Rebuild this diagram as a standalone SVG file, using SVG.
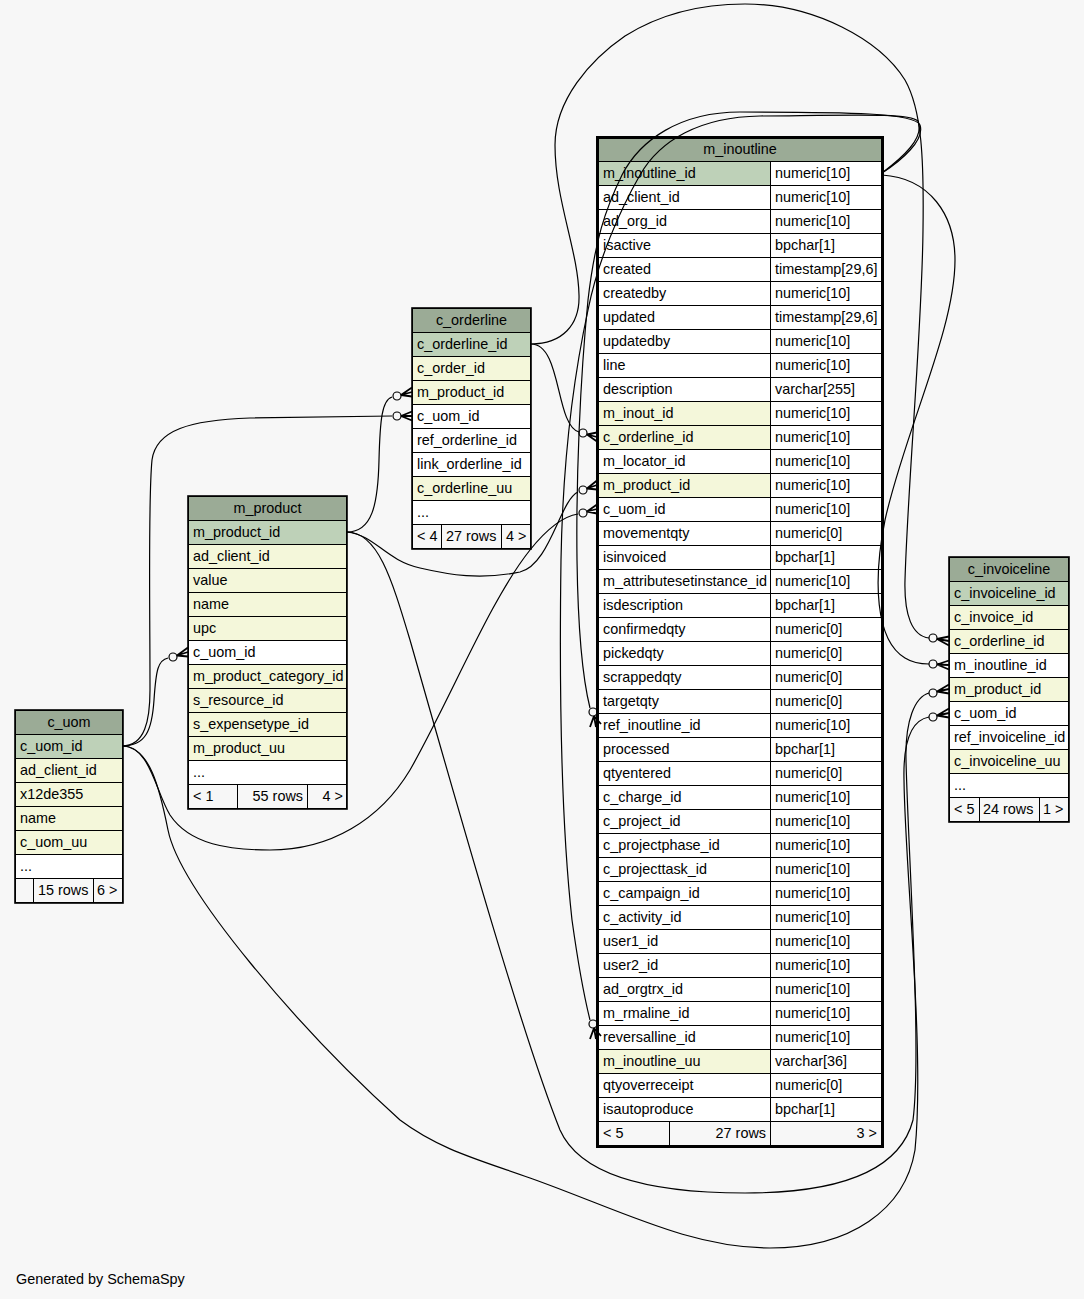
<svg xmlns="http://www.w3.org/2000/svg" width="1084" height="1299" viewBox="0 0 1084 1299">
<style>
text{font-family:"Liberation Sans",Arial,sans-serif;font-size:14.4px;fill:#000}
.hc{text-anchor:middle}
.e{text-anchor:end}
.h{fill:#9bab96;stroke:#000;stroke-width:1}
.pk{fill:#bed1b8;stroke:#000;stroke-width:1}
.fk{fill:#f4f7da;stroke:#000;stroke-width:1}
.w{fill:#fff;stroke:#000;stroke-width:1}
.f{fill:#f7f7f7;stroke:#000;stroke-width:1}
.g{fill:none;stroke:#000;stroke-width:1}
.o{fill:none;stroke:#000;stroke-width:1.6}
.ob{fill:none;stroke:#000;stroke-width:3}
.ln{fill:none;stroke:#000;stroke-width:1.2}
.dot{fill:none;stroke:#000;stroke-width:1.2}
.crow{fill:none;stroke:#000;stroke-width:1.8}
</style>
<rect x="0" y="0" width="1084" height="1299" fill="#f7f7f7"/>

<g id="c_orderline">
<rect class="h" x="412.5" y="308.5" width="118" height="24"/>
<text class="hc" x="471.5" y="325">c_orderline</text>
<rect class="pk" x="412.5" y="332.5" width="118" height="24"/>
<rect class="fk" x="412.5" y="356.5" width="118" height="24"/>
<rect class="fk" x="412.5" y="380.5" width="118" height="24"/>
<rect class="w" x="412.5" y="404.5" width="118" height="24"/>
<rect class="w" x="412.5" y="428.5" width="118" height="24"/>
<rect class="w" x="412.5" y="452.5" width="118" height="24"/>
<rect class="fk" x="412.5" y="476.5" width="118" height="24"/>
<rect class="w" x="412.5" y="500.5" width="118" height="24"/>
<rect class="f" x="412.5" y="524.5" width="118" height="24"/>
<path class="g" d="M441.5,524.5V548.5M501.5,524.5V548.5"/>
<rect class="o" x="412" y="308" width="119" height="241"/>
<text x="417" y="349">c_orderline_id</text>
<text x="417" y="373">c_order_id</text>
<text x="417" y="397">m_product_id</text>
<text x="417" y="421">c_uom_id</text>
<text x="417" y="445">ref_orderline_id</text>
<text x="417" y="469">link_orderline_id</text>
<text x="417" y="493">c_orderline_uu</text>
<text x="417" y="517">...</text>
<text x="417" y="541">&lt; 4</text>
<text x="446" y="541">27 rows</text>
<text x="506" y="541">4 &gt;</text>
</g>

<g id="m_product">
<rect class="h" x="188.5" y="496.5" width="158" height="24"/>
<text class="hc" x="267.5" y="513">m_product</text>
<rect class="pk" x="188.5" y="520.5" width="158" height="24"/>
<rect class="fk" x="188.5" y="544.5" width="158" height="24"/>
<rect class="fk" x="188.5" y="568.5" width="158" height="24"/>
<rect class="fk" x="188.5" y="592.5" width="158" height="24"/>
<rect class="fk" x="188.5" y="616.5" width="158" height="24"/>
<rect class="w" x="188.5" y="640.5" width="158" height="24"/>
<rect class="fk" x="188.5" y="664.5" width="158" height="24"/>
<rect class="fk" x="188.5" y="688.5" width="158" height="24"/>
<rect class="fk" x="188.5" y="712.5" width="158" height="24"/>
<rect class="fk" x="188.5" y="736.5" width="158" height="24"/>
<rect class="w" x="188.5" y="760.5" width="158" height="24"/>
<rect class="f" x="188.5" y="784.5" width="158" height="24"/>
<path class="g" d="M237.5,784.5V808.5M307.5,784.5V808.5"/>
<rect class="o" x="188" y="496" width="159" height="313"/>
<text x="193" y="537">m_product_id</text>
<text x="193" y="561">ad_client_id</text>
<text x="193" y="585">value</text>
<text x="193" y="609">name</text>
<text x="193" y="633">upc</text>
<text x="193" y="657">c_uom_id</text>
<text x="193" y="681">m_product_category_id</text>
<text x="193" y="705">s_resource_id</text>
<text x="193" y="729">s_expensetype_id</text>
<text x="193" y="753">m_product_uu</text>
<text x="193" y="777">...</text>
<text x="193" y="801">&lt; 1</text>
<text class="e" x="303" y="801">55 rows</text>
<text class="e" x="343" y="801">4 &gt;</text>
</g>

<g id="c_uom">
<rect class="h" x="15.5" y="710.5" width="107" height="24"/>
<text class="hc" x="69" y="727">c_uom</text>
<rect class="pk" x="15.5" y="734.5" width="107" height="24"/>
<rect class="fk" x="15.5" y="758.5" width="107" height="24"/>
<rect class="fk" x="15.5" y="782.5" width="107" height="24"/>
<rect class="fk" x="15.5" y="806.5" width="107" height="24"/>
<rect class="fk" x="15.5" y="830.5" width="107" height="24"/>
<rect class="w" x="15.5" y="854.5" width="107" height="24"/>
<rect class="f" x="15.5" y="878.5" width="107" height="24"/>
<path class="g" d="M33.5,878.5V902.5M93.5,878.5V902.5"/>
<rect class="o" x="15" y="710" width="108" height="193"/>
<text x="20" y="751">c_uom_id</text>
<text x="20" y="775">ad_client_id</text>
<text x="20" y="799">x12de355</text>
<text x="20" y="823">name</text>
<text x="20" y="847">c_uom_uu</text>
<text x="20" y="871">...</text>
<text x="38" y="895">15 rows</text>
<text x="97" y="895">6 &gt;</text>
</g>

<g id="c_invoiceline">
<rect class="h" x="949.5" y="557.5" width="119" height="24"/>
<text class="hc" x="1009" y="574">c_invoiceline</text>
<rect class="pk" x="949.5" y="581.5" width="119" height="24"/>
<rect class="fk" x="949.5" y="605.5" width="119" height="24"/>
<rect class="fk" x="949.5" y="629.5" width="119" height="24"/>
<rect class="w" x="949.5" y="653.5" width="119" height="24"/>
<rect class="fk" x="949.5" y="677.5" width="119" height="24"/>
<rect class="w" x="949.5" y="701.5" width="119" height="24"/>
<rect class="w" x="949.5" y="725.5" width="119" height="24"/>
<rect class="fk" x="949.5" y="749.5" width="119" height="24"/>
<rect class="w" x="949.5" y="773.5" width="119" height="24"/>
<rect class="f" x="949.5" y="797.5" width="119" height="24"/>
<path class="g" d="M979.5,797.5V821.5M1039.5,797.5V821.5"/>
<rect class="o" x="949" y="557" width="120" height="265"/>
<text x="954" y="598">c_invoiceline_id</text>
<text x="954" y="622">c_invoice_id</text>
<text x="954" y="646">c_orderline_id</text>
<text x="954" y="670">m_inoutline_id</text>
<text x="954" y="694">m_product_id</text>
<text x="954" y="718">c_uom_id</text>
<text x="954" y="742">ref_invoiceline_id</text>
<text x="954" y="766">c_invoiceline_uu</text>
<text x="954" y="790">...</text>
<text x="954" y="814">&lt; 5</text>
<text x="983" y="814">24 rows</text>
<text x="1043" y="814">1 &gt;</text>
</g>

<g id="m_inoutline">
<rect class="h" x="598.5" y="138.5" width="283" height="23"/>
<text class="hc" x="740" y="154">m_inoutline</text>
<rect x="598.5" y="161.5" width="283" height="960" fill="#fff"/>
<rect class="pk" x="598.5" y="161.5" width="172" height="24"/>
<rect class="fk" x="598.5" y="401.5" width="172" height="24"/>
<rect class="fk" x="598.5" y="425.5" width="172" height="24"/>
<rect class="fk" x="598.5" y="473.5" width="172" height="24"/>
<rect class="fk" x="598.5" y="1049.5" width="172" height="24"/>
<path class="g" d="M598.5,161.5H881.5M598.5,185.5H881.5M598.5,209.5H881.5M598.5,233.5H881.5M598.5,257.5H881.5M598.5,281.5H881.5M598.5,305.5H881.5M598.5,329.5H881.5M598.5,353.5H881.5M598.5,377.5H881.5M598.5,401.5H881.5M598.5,425.5H881.5M598.5,449.5H881.5M598.5,473.5H881.5M598.5,497.5H881.5M598.5,521.5H881.5M598.5,545.5H881.5M598.5,569.5H881.5M598.5,593.5H881.5M598.5,617.5H881.5M598.5,641.5H881.5M598.5,665.5H881.5M598.5,689.5H881.5M598.5,713.5H881.5M598.5,737.5H881.5M598.5,761.5H881.5M598.5,785.5H881.5M598.5,809.5H881.5M598.5,833.5H881.5M598.5,857.5H881.5M598.5,881.5H881.5M598.5,905.5H881.5M598.5,929.5H881.5M598.5,953.5H881.5M598.5,977.5H881.5M598.5,1001.5H881.5M598.5,1025.5H881.5M598.5,1049.5H881.5M598.5,1073.5H881.5M598.5,1097.5H881.5M598.5,1121.5H881.5M770.5,161.5V1145.5"/>
<rect class="f" x="598.5" y="1121.5" width="283" height="24"/>
<path class="g" d="M669.5,1121.5V1145.5M770.5,1121.5V1145.5"/>
<rect class="ob" x="597.5" y="137.5" width="285" height="1009"/>
<text x="603" y="178">m_inoutline_id</text><text x="775" y="178">numeric[10]</text>
<text x="603" y="202">ad_client_id</text><text x="775" y="202">numeric[10]</text>
<text x="603" y="226">ad_org_id</text><text x="775" y="226">numeric[10]</text>
<text x="603" y="250">isactive</text><text x="775" y="250">bpchar[1]</text>
<text x="603" y="274">created</text><text x="775" y="274">timestamp[29,6]</text>
<text x="603" y="298">createdby</text><text x="775" y="298">numeric[10]</text>
<text x="603" y="322">updated</text><text x="775" y="322">timestamp[29,6]</text>
<text x="603" y="346">updatedby</text><text x="775" y="346">numeric[10]</text>
<text x="603" y="370">line</text><text x="775" y="370">numeric[10]</text>
<text x="603" y="394">description</text><text x="775" y="394">varchar[255]</text>
<text x="603" y="418">m_inout_id</text><text x="775" y="418">numeric[10]</text>
<text x="603" y="442">c_orderline_id</text><text x="775" y="442">numeric[10]</text>
<text x="603" y="466">m_locator_id</text><text x="775" y="466">numeric[10]</text>
<text x="603" y="490">m_product_id</text><text x="775" y="490">numeric[10]</text>
<text x="603" y="514">c_uom_id</text><text x="775" y="514">numeric[10]</text>
<text x="603" y="538">movementqty</text><text x="775" y="538">numeric[0]</text>
<text x="603" y="562">isinvoiced</text><text x="775" y="562">bpchar[1]</text>
<text x="603" y="586">m_attributesetinstance_id</text><text x="775" y="586">numeric[10]</text>
<text x="603" y="610">isdescription</text><text x="775" y="610">bpchar[1]</text>
<text x="603" y="634">confirmedqty</text><text x="775" y="634">numeric[0]</text>
<text x="603" y="658">pickedqty</text><text x="775" y="658">numeric[0]</text>
<text x="603" y="682">scrappedqty</text><text x="775" y="682">numeric[0]</text>
<text x="603" y="706">targetqty</text><text x="775" y="706">numeric[0]</text>
<text x="603" y="730">ref_inoutline_id</text><text x="775" y="730">numeric[10]</text>
<text x="603" y="754">processed</text><text x="775" y="754">bpchar[1]</text>
<text x="603" y="778">qtyentered</text><text x="775" y="778">numeric[0]</text>
<text x="603" y="802">c_charge_id</text><text x="775" y="802">numeric[10]</text>
<text x="603" y="826">c_project_id</text><text x="775" y="826">numeric[10]</text>
<text x="603" y="850">c_projectphase_id</text><text x="775" y="850">numeric[10]</text>
<text x="603" y="874">c_projecttask_id</text><text x="775" y="874">numeric[10]</text>
<text x="603" y="898">c_campaign_id</text><text x="775" y="898">numeric[10]</text>
<text x="603" y="922">c_activity_id</text><text x="775" y="922">numeric[10]</text>
<text x="603" y="946">user1_id</text><text x="775" y="946">numeric[10]</text>
<text x="603" y="970">user2_id</text><text x="775" y="970">numeric[10]</text>
<text x="603" y="994">ad_orgtrx_id</text><text x="775" y="994">numeric[10]</text>
<text x="603" y="1018">m_rmaline_id</text><text x="775" y="1018">numeric[10]</text>
<text x="603" y="1042">reversalline_id</text><text x="775" y="1042">numeric[10]</text>
<text x="603" y="1066">m_inoutline_uu</text><text x="775" y="1066">varchar[36]</text>
<text x="603" y="1090">qtyoverreceipt</text><text x="775" y="1090">numeric[0]</text>
<text x="603" y="1114">isautoproduce</text><text x="775" y="1114">bpchar[1]</text>
<text x="603" y="1138">&lt; 5</text>
<text class="e" x="766" y="1138">27 rows</text>
<text class="e" x="877" y="1138">3 &gt;</text>
</g>

<g id="connectors">
<path class="ln" d="M531,344 C562,344 555,425 579,432"/>
<path class="ln" d="M531,344 C562,344 580,325 579,295 C578,250 555,200 555,145 C555,100 590,60 625,36 C660,14 700,4 745,4 C815,4 880,40 905,80 C922,110 924,160 923,230 C922,330 908,480 905,580 C904,615 912,636 929,638"/>
<path class="ln" d="M882,175 C930,178 955,215 955,260 C955,330 905,430 885,520 C873,580 875,640 905,658 C913,663 920,664 929,664"/>
<path class="ln" d="M882,173 C902,160 925,140 920,125 C915,113 850,112 740,112 C680,112 640,140 622,175 C605,210 595,240 588,300 C580,380 576,480 577,560 C578,630 583,680 590,708"/>
<path class="ln" d="M882,173 C902,158 925,138 918,121 C910,113 860,115 760,116 C700,117 660,140 640,175 C620,210 598,260 588,310 C575,370 563,450 561,560 C559,700 562,830 572,920 C579,970 585,1000 590,1020"/>
<path class="ln" d="M347,532 C372,532 378,505 379,460 C380,420 382,400 392,397"/>
<path class="ln" d="M347,532 C375,535 385,560 420,568 C450,575 480,580 520,572 C550,565 560,500 578,492"/>
<path class="ln" d="M347,532 C378,532 392,580 410,640 C450,780 520,1030 560,1130 C580,1175 650,1193 745,1193 C840,1193 900,1170 913,1120 C922,1050 908,850 906,760 C905,720 915,697 929,693"/>
<path class="ln" d="M122,746 C146,746 152,730 154,700 C156,670 158,660 168,658"/>
<path class="ln" d="M122,746 C145,746 150,720 150,690 C150,600 148,500 152,460 C156,430 190,420 250,418 L392,416"/>
<path class="ln" d="M122,746 C150,746 155,790 170,815 C190,845 230,850 270,850 C330,850 380,820 410,770 C450,700 490,600 530,550 C550,525 565,516 578,514"/>
<path class="ln" d="M122,746 C150,746 160,790 168,830 C180,890 300,1030 400,1120 C440,1150 480,1160 530,1178 C620,1210 690,1248 770,1248 C850,1248 905,1210 915,1150 C925,1050 905,870 904,780 C903,740 912,720 929,717"/>

<circle class="dot" cx="583" cy="433" r="4"/>
<path class="crow" d="M587,434.5L597,432.5M587,434.5L597,437M587,434.5L597,441.5"/>
<circle class="dot" cx="583" cy="490" r="4"/>
<path class="crow" d="M587,488.5L597,480.5M587,488.5L597,485M587,488.5L597,489.5"/>
<circle class="dot" cx="583" cy="513" r="4"/>
<path class="crow" d="M587,511.5L597,504.5M587,511.5L597,509M587,511.5L597,513.5"/>
<circle class="dot" cx="593" cy="712" r="4"/>
<path class="crow" d="M594,716L590,727M594,716L596,727M594,716L601,724"/>
<circle class="dot" cx="593" cy="1024" r="4"/>
<path class="crow" d="M594,1028L590,1039M594,1028L596,1039M594,1028L601,1036"/>
<circle class="dot" cx="933" cy="638" r="4"/>
<path class="crow" d="M937,639L949,636.5M937,639L949,641M937,639L949,645.5"/>
<circle class="dot" cx="933" cy="664" r="4"/>
<path class="crow" d="M937,664.5L949,660.5M937,664.5L949,665M937,664.5L949,669.5"/>
<circle class="dot" cx="933" cy="693" r="4"/>
<path class="crow" d="M937,691.5L949,684.5M937,691.5L949,689M937,691.5L949,693.5"/>
<circle class="dot" cx="933" cy="717" r="4"/>
<path class="crow" d="M937,715.5L949,708.5M937,715.5L949,713M937,715.5L949,717.5"/>
<circle class="dot" cx="397" cy="396" r="4"/>
<path class="crow" d="M401,395L412,387.5M401,395L412,392M401,395L412,396.5"/>
<circle class="dot" cx="397" cy="416" r="4"/>
<path class="crow" d="M401,416L412,411.5M401,416L412,416M401,416L412,420.5"/>
<circle class="dot" cx="173" cy="657" r="4"/>
<path class="crow" d="M177,655.5L188,647.5M177,655.5L188,652M177,655.5L188,656.5"/>
</g>

<text x="16" y="1284">Generated by SchemaSpy</text>
</svg>
